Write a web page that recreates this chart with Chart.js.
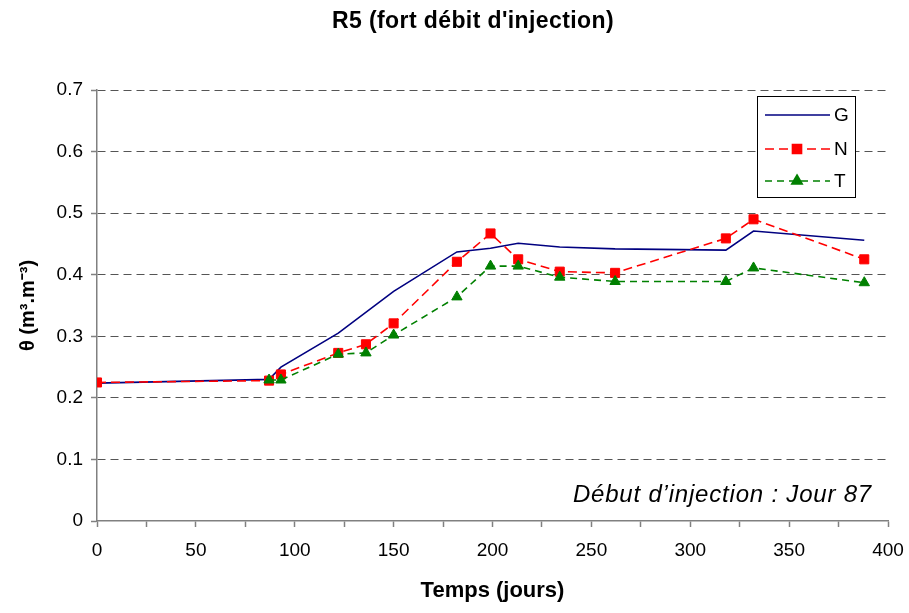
<!DOCTYPE html>
<html lang="fr">
<head>
<meta charset="UTF-8">
<title>R5 (fort débit d'injection)</title>
<style>
    body { margin: 0; background: #ffffff; }
    #wrap { width: 909px; height: 613px; }
</style>
<script src="https://cdn.jsdelivr.net/npm/chart.js"></script>
</head>
<body>
<div id="wrap"><canvas id="myChart" width="909" height="613"></canvas></div>
<script>
// jours de mesure
const days = [0, 87, 93, 122, 136, 150, 182, 199, 213, 234, 262, 318, 332, 388];
// teneur en eau (m3.m-3), null = pas de mesure
const serieG = [0.224, 0.230, 0.250, 0.305, null, 0.373, 0.437, 0.443, 0.451, 0.445, 0.442, 0.440, 0.471, 0.456];
const serieN = [0.225, 0.228, 0.238, 0.273, 0.287, 0.321, 0.421, 0.467, 0.425, 0.405, 0.403, 0.459, 0.490, 0.425];
const serieT = [null, 0.229, 0.229, 0.271, 0.273, 0.302, 0.364, 0.414, 0.414, 0.396, 0.389, 0.389, 0.411, 0.387];
const seriesNames = ['G', 'N', 'T'];
const xTicks = [0, 50, 100, 150, 200, 250, 300, 350, 400];
const yTicks = [0, 0.1, 0.2, 0.3, 0.4, 0.5, 0.6, 0.7];

const FONT = "'Liberation Sans', Arial, sans-serif";

function toPoints(vals) {
    return days.map((d, i) => ({ x: d, y: vals[i] }));
}

// titre, légende encadrée et note "Début d'injection"
const overlay = {
    id: 'overlay',
    afterDraw(chart) {
        const ctx = chart.ctx;
        ctx.save();
        ctx.fillStyle = '#000';
        ctx.textBaseline = 'alphabetic';
        try { ctx.letterSpacing = '0.4px'; } catch (e) {}
        ctx.font = 'bold 23px ' + FONT;
        ctx.textAlign = 'center';
        ctx.fillText("R5 (fort débit d'injection)", 473, 28);

        try { ctx.letterSpacing = '0.8px'; } catch (e) {}
        ctx.font = 'italic 24px ' + FONT;
        ctx.textAlign = 'right';
        ctx.fillText('Début d’injection : Jour 87', 872, 502);
        try { ctx.letterSpacing = '0px'; } catch (e) {}

        // légende
        const bx = 757, by = 96, bw = 98, bh = 101;
        ctx.fillStyle = '#fff';
        ctx.fillRect(bx, by, bw, bh);
        ctx.strokeStyle = '#000';
        ctx.lineWidth = 1;
        ctx.setLineDash([]);
        ctx.strokeRect(bx + 0.5, by + 0.5, bw, bh);

        const rows = [115, 149, 181];
        chart.data.datasets.forEach((ds, i) => {
            const y = rows[i];
            ctx.strokeStyle = ds.borderColor;
            ctx.lineWidth = ds.borderWidth;
            ctx.setLineDash(ds.borderDash || []);
            ctx.beginPath();
            ctx.moveTo(765, y);
            ctx.lineTo(830, y);
            ctx.stroke();
            ctx.setLineDash([]);
            if (ds.pointRadius > 0) {
                ctx.fillStyle = ds.pointBackgroundColor;
                ctx.strokeStyle = ds.pointBorderColor;
                Chart.helpers.drawPoint(ctx, {
                    pointStyle: ds.pointStyle, radius: ds.pointRadius, rotation: 0, borderWidth: 1
                }, 797, y);
            }
            ctx.fillStyle = '#000';
            ctx.font = '19px ' + FONT;
            ctx.textAlign = 'left';
            ctx.textBaseline = 'middle';
            ctx.fillText(ds.label, 834, y + 1);
        });
        ctx.restore();
    }
};

new Chart(document.getElementById('myChart'), {
    type: 'line',
    data: {
        datasets: [
            {
                label: seriesNames[0],
                data: toPoints(serieG),
                borderColor: '#000080',
                borderWidth: 1.6,
                pointRadius: 0,
                spanGaps: true,
                order: 2
            },
            {
                label: seriesNames[1],
                data: toPoints(serieN),
                borderColor: '#ff0000',
                borderWidth: 1.6,
                borderDash: [9, 5],
                pointStyle: 'rect',
                pointRadius: 6.4,
                pointBackgroundColor: '#ff0000',
                pointBorderColor: '#ff0000',
                pointBorderWidth: 1,
                spanGaps: true,
                order: 1
            },
            {
                label: seriesNames[2],
                data: toPoints(serieT),
                borderColor: '#008000',
                borderWidth: 1.6,
                borderDash: [7, 5],
                pointStyle: 'triangle',
                pointRadius: 6,
                pointBackgroundColor: '#008000',
                pointBorderColor: '#008000',
                pointBorderWidth: 1,
                spanGaps: true,
                order: 0
            }
        ]
    },
    options: {
        responsive: false,
        animation: false,
        layout: { padding: { top: 90, right: 21, left: 0, bottom: 0 } },
        plugins: {
            legend: { display: false },
            tooltip: { enabled: false },
            title: { display: false }
        },
        scales: {
            x: {
                type: 'linear',
                min: 0,
                max: 400,
                afterFit: s => { s.height = 92; s.paddingRight = 0; },
                afterBuildTicks: s => {
                    const t = [];
                    for (let v = 0; v <= 400; v += 25) t.push({ value: v });
                    s.ticks = t;
                },
                ticks: {
                    autoSkip: false,
                    maxRotation: 0,
                    padding: 12,
                    color: '#000',
                    font: { family: FONT, size: 19 },
                    callback: v => xTicks.includes(v) ? String(v) : ''
                },
                grid: {
                    drawOnChartArea: false,
                    drawTicks: true,
                    tickLength: 6,
                    tickColor: '#808080',
                    tickWidth: 1.5
                },
                border: { color: '#808080', width: 1.5 },
                title: {
                    display: true,
                    text: 'Temps (jours)',
                    color: '#000',
                    font: { family: FONT, size: 22, weight: 'bold' },
                    padding: { top: 0, bottom: 9 }
                }
            },
            y: {
                min: 0,
                max: 0.7,
                afterFit: s => { s.width = 97; },
                afterBuildTicks: s => { s.ticks = yTicks.map(v => ({ value: v })); },
                ticks: {
                    padding: 8,
                    color: '#000',
                    font: { family: FONT, size: 19 },
                    callback: v => v === 0 ? '0' : v.toFixed(1)
                },
                grid: {
                    color: c => (c.tick && c.tick.value === 0) ? 'rgba(0,0,0,0)' : '#555555',
                    lineWidth: 1,
                    drawTicks: true,
                    tickLength: 6,
                    tickColor: '#808080',
                    tickWidth: 1.5
                },
                border: { color: '#808080', width: 1.5, dash: [8, 5] },
                title: {
                    display: true,
                    text: 'θ (m³.m⁻³)',
                    color: '#000',
                    font: { family: FONT, size: 20, weight: 'bold' },
                    padding: { top: 16, bottom: 0 }
                }
            }
        }
    },
    plugins: [overlay]
});
</script>
</body>
</html>
